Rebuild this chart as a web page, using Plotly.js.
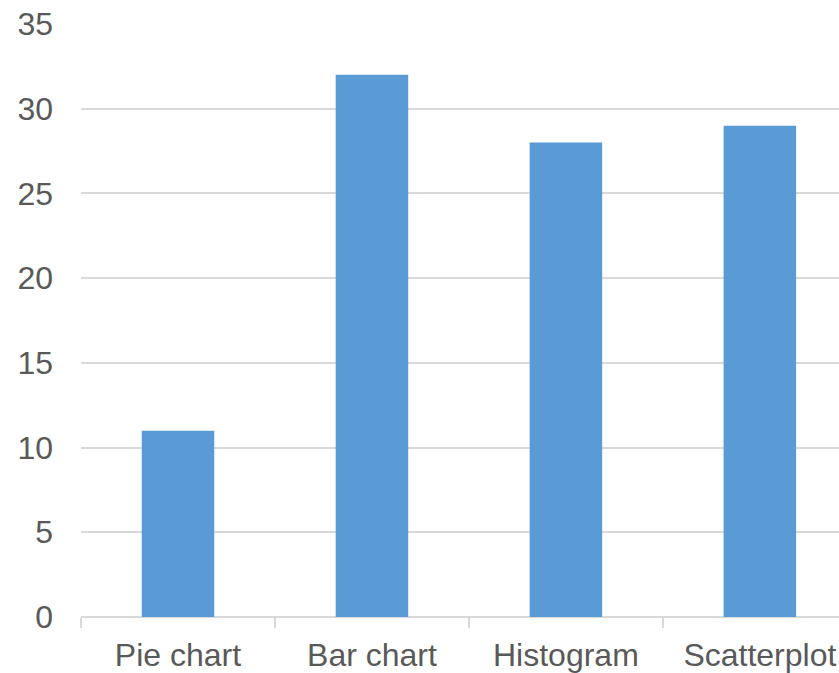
<!DOCTYPE html>
<html>
<head>
<meta charset="utf-8">
<script src="https://cdn.plot.ly/plotly-3.0.1.min.js"></script>
<style>
  html, body { margin: 0; padding: 0; background: #ffffff; }
  #chart { width: 839px; height: 673px; }
</style>
</head>
<body>
<div id="chart"></div>
<script>
// Chart types and their counts
const categories = ["Pie chart", "Bar chart", "Histogram", "Scatterplot"];
const counts = [11, 32, 28, 29];
const yTickValues = [0, 5, 10, 15, 20, 25, 30, 35];

const textColor = "#595959";
const lineColor = "#d9d9d9";
const barColor = "#5b9bd5";

const trace = {
  type: "bar",
  x: categories,
  y: counts,
  marker: { color: barColor, line: { width: 0 } },
  hoverinfo: "x+y"
};

const layout = {
  width: 839,
  height: 673,
  margin: { l: 81, r: 0, t: 24, b: 56, pad: 0 },
  paper_bgcolor: "#ffffff",
  plot_bgcolor: "#ffffff",
  showlegend: false,
  bargap: 0.626,
  font: { family: "Liberation Sans, Arial, sans-serif", size: 32, color: textColor },
  xaxis: {
    type: "category",
    range: [-0.5, 3.408],
    tickson: "boundaries",
    ticks: "outside",
    ticklen: 10,
    tickwidth: 2,
    tickcolor: lineColor,
    showline: false,
    showgrid: false,
    zeroline: false,
    ticklabelstandoff: 16,
    tickfont: { family: "Liberation Sans, Arial, sans-serif", size: 32, color: textColor },
    fixedrange: true
  },
  yaxis: {
    range: [0, 35],
    tickvals: yTickValues,
    ticktext: yTickValues.map(String),
    showgrid: true,
    gridcolor: lineColor,
    gridwidth: 2,
    zeroline: true,
    zerolinecolor: lineColor,
    zerolinewidth: 2,
    showline: false,
    ticks: "",
    ticklabelstandoff: 27,
    tickfont: { family: "Liberation Sans, Arial, sans-serif", size: 32, color: textColor },
    fixedrange: true
  }
};

Plotly.newPlot("chart", [trace], layout, { displayModeBar: false, staticPlot: true });
</script>
</body>
</html>
